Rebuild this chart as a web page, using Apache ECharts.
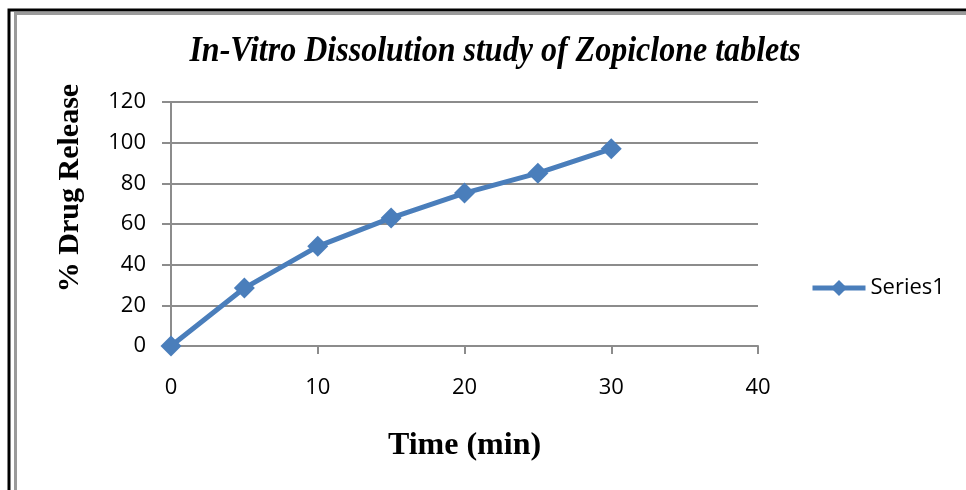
<!DOCTYPE html>
<html>
<head>
<meta charset="utf-8">
<script src="https://cdn.jsdelivr.net/npm/echarts@6/dist/echarts.min.js"></script>
<style>
  html, body { margin: 0; padding: 0; background: #fff; }
  #chart { width: 966px; height: 490px; }
</style>
</head>
<body>
<div id="chart"></div>
<script>
// Dissolution profile: time points (min) and cumulative % drug released
const timeMin = [0, 5, 10, 15, 20, 25, 30];
const drugRelease = [0, 28.5, 49, 63, 75.2, 85, 97];
const seriesName = 'Series1';
const chartTitle = 'In-Vitro Dissolution study of Zopiclone tablets';
const xTitle = 'Time (min)';
const yTitle = '% Drug Release';

const chart = echarts.init(document.getElementById('chart'));
const labelFont = "'Open Sans', 'Noto Sans', sans-serif";
const serifFont = "'Liberation Serif', 'DejaVu Serif', serif";

chart.setOption({
  animation: false,
  backgroundColor: '#fff',
  legend: {
    orient: 'vertical',
    left: 810,
    top: 277,
    padding: 0,
    itemWidth: 53,
    itemHeight: 20,
    itemGap: 10,
    lineStyle: { width: 5 },
    textStyle: { fontFamily: labelFont, fontSize: 22, color: '#000' },
    data: [seriesName]
  },
  grid: { left: 171, right: 208, top: 102, bottom: 144 },
  xAxis: {
    type: 'value',
    min: 0, max: 40, interval: 10,
    name: xTitle,
    nameLocation: 'middle',
    nameGap: 84,
    nameTextStyle: { fontFamily: serifFont, fontWeight: 'bold', fontSize: 32, color: '#000' },
    axisLine: { show: true, lineStyle: { color: '#8c8c8c', width: 2 } },
    axisTick: { show: true, length: 8, lineStyle: { color: '#8c8c8c', width: 2 } },
    splitLine: { show: false },
    axisLabel: { fontFamily: labelFont, fontSize: 22, color: '#000', margin: 31 }
  },
  yAxis: {
    type: 'value',
    min: 0, max: 120, interval: 20,
    axisLine: { show: true, lineStyle: { color: '#8c8c8c', width: 2 } },
    axisTick: { show: true, length: 9, lineStyle: { color: '#8c8c8c', width: 2 } },
    splitLine: { show: true, lineStyle: { color: '#8c8c8c', width: 2 } },
    axisLabel: { fontFamily: labelFont, fontSize: 22, color: '#000', margin: 25 }
  },
  graphic: [
    // double frame around the chart area
    { type: 'rect', shape: { x: 9, y: 10, width: 970, height: 500 },
      style: { fill: 'none', stroke: '#000', lineWidth: 3 } },
    { type: 'rect', shape: { x: 15.5, y: 13.5, width: 970, height: 500 },
      style: { fill: 'none', stroke: '#9a9a9a', lineWidth: 3 } },
    // chart title, slightly condensed
    { type: 'text', x: 495, y: 52, scaleX: 0.915,
      style: { text: chartTitle, align: 'center', verticalAlign: 'middle',
        font: "italic bold 35px 'Liberation Serif', serif", fill: '#000' } },
    // vertical axis title
    { type: 'text', x: 70, y: 188, rotation: Math.PI / 2,
      style: { text: yTitle, align: 'center', verticalAlign: 'middle',
        font: "bold 30px 'Liberation Serif', serif", fill: '#000' } }
  ],
  series: [{
    name: seriesName,
    type: 'line',
    data: timeMin.map((t, i) => [t, drugRelease[i]]),
    symbol: 'diamond',
    symbolSize: 21,
    lineStyle: { color: '#4a7ebb', width: 5 },
    itemStyle: { color: '#4a7ebb' }
  }]
});
</script>
</body>
</html>
